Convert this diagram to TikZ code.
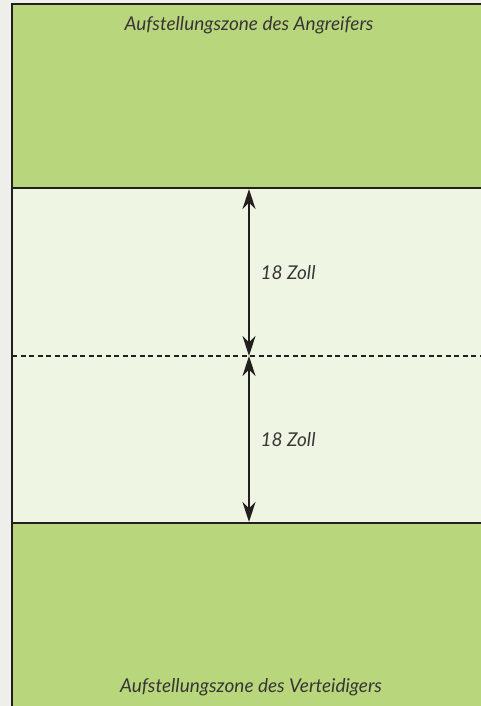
\documentclass[tikz,border=0pt]{standalone}
\usepackage{fontspec}
\setmainfont{Lato}
\usetikzlibrary{arrows.meta}
\definecolor{zonegreen}{HTML}{B8D77C}
\definecolor{midgreen}{HTML}{EFF5E3}
\definecolor{outside}{HTML}{EEEEEB}
\definecolor{ink}{HTML}{231F20}
\tikzset{
  label/.style={font=\itshape\fontsize{19}{22}\selectfont, text=ink!90},
  dim/.style={draw=ink, line width=1.6pt, {Stealth[length=20pt,width=13pt]}-{Stealth[length=20pt,width=13pt]}}
}
\begin{document}
\begin{tikzpicture}[x=1pt,y=-1pt]
\useasboundingbox (0,0) rectangle (481,706);
\fill[outside] (0,0) rectangle (481,706);
\fill[midgreen] (12,188) rectangle (485,523);
\fill[zonegreen] (12,4) rectangle (485,188);
\fill[zonegreen] (12,523) rectangle (485,710);
\draw[ink, line width=2pt] (485,4) -- (12,4) -- (12,710);
\draw[ink, line width=2pt] (12,188) -- (485,188);
\draw[ink, line width=2pt] (12,523) -- (485,523);
\draw[ink, line width=1.3pt, dash pattern=on 5pt off 3.5pt] (12,356) -- (485,356);
\coordinate (top) at (249,189);
\coordinate (mid) at (249,356);
\coordinate (bot) at (249,522);
\draw[dim] (top) -- (mid);
\draw[dim] (mid) -- (bot);
\node[label] (att) at (249,25) {Aufstellungszone des Angreifers};
\node[label] (def) at (251,687) {Aufstellungszone des Verteidigers};
\node[label, anchor=west] (d1) at (257,273) {18 Zoll};
\node[label, anchor=west] (d2) at (257,440) {18 Zoll};
\end{tikzpicture}
\end{document}
